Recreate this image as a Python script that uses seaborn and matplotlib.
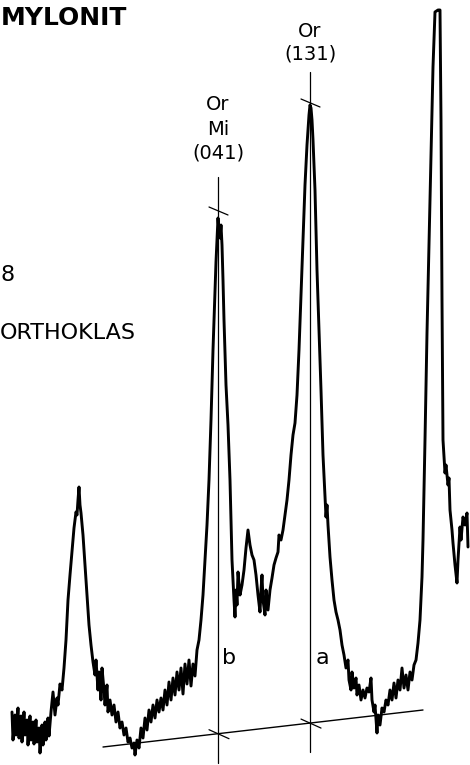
import matplotlib
matplotlib.use("Agg")
import matplotlib.pyplot as plt
import seaborn as sns
import pandas as pd

# Diffractogram trace (x = position, y = depth from top edge)
pos = [12, 13, 15, 16, 18, 19, 21, 22, 24, 25, 27, 28, 30, 31, 33, 34, 36, 37, 39, 40,
       42, 43, 45, 46, 48, 49, 51, 53, 55, 57, 58, 60, 62, 64, 66, 68, 70, 72, 74, 76,
       77, 78, 79, 80, 81, 83, 85, 87, 89, 91, 93, 95, 96, 98, 99, 101, 102, 104, 105, 107,
       108, 110, 112, 114, 116, 118, 120, 122, 124, 126, 128, 130, 132, 134, 135, 137, 139, 141, 143, 145,
       147, 149, 151, 153, 155, 157, 159, 161, 163, 165, 167, 169, 171, 173, 175, 177, 179, 181, 183, 185,
       187, 189, 191, 193, 195, 197, 199, 201, 203, 205, 207, 209, 211, 213, 215, 216, 217, 218, 219, 220,
       221, 222, 223, 224, 226, 227, 228, 230, 232, 234, 235, 236, 237, 238, 240, 242, 244, 246, 248, 250,
       252, 254, 256, 258, 260, 261, 262, 263, 265, 266, 268, 270, 272, 274, 276, 278, 279, 281, 283, 285,
       287, 289, 291, 293, 295, 297, 299, 301, 303, 305, 307, 309, 310, 311, 312, 313, 315, 317, 319, 321,
       323, 325, 326, 327, 328, 330, 332, 334, 336, 338, 340, 342, 344, 346, 348, 349, 351, 352, 354, 356,
       357, 359, 361, 363, 365, 367, 369, 371, 372, 374, 375, 377, 378, 380, 382, 384, 386, 388, 390, 392,
       394, 396, 398, 400, 402, 404, 406, 408, 410, 412, 414, 416, 418, 420, 422, 423, 425, 427, 430, 433,
       435, 438, 440, 441, 442, 443, 445, 446, 448, 449, 450, 452, 453, 455, 457, 458, 460, 461, 463, 465,
       467, 468]
depth = [712, 740, 715, 735, 708, 738, 716, 742, 712, 735, 720, 745, 716, 740, 722, 744, 720, 742, 728, 753,
         725, 745, 722, 740, 718, 736, 712, 692, 715, 698, 705, 684, 690, 668, 640, 600, 575, 552, 528, 512,
         515, 500, 487, 505, 513, 535, 565, 595, 625, 645, 662, 675, 660, 690, 672, 700, 668, 690, 705, 685,
         712, 700, 715, 705, 722, 712, 728, 722, 735, 728, 742, 738, 748, 743, 755, 740, 748, 728, 738, 718,
         730, 710, 722, 705, 718, 700, 712, 698, 710, 690, 705, 682, 700, 678, 695, 672, 690, 668, 694, 664,
         684, 660, 686, 664, 676, 650, 640, 620, 595, 560, 525, 480, 420, 350, 290, 262, 240, 218, 232, 238,
         225, 245, 280, 320, 385, 405, 425, 480, 560, 600, 617, 590, 605, 572, 595, 585, 570, 548, 530, 545,
         555, 560, 575, 595, 612, 590, 575, 600, 615, 590, 610, 590, 578, 565, 558, 552, 535, 540, 530, 515,
         500, 480, 455, 435, 423, 395, 350, 295, 240, 185, 145, 115, 105, 108, 120, 140, 190, 270, 330, 390,
         455, 495, 517, 505, 525, 557, 580, 600, 612, 620, 630, 645, 655, 668, 660, 680, 690, 672, 688, 678,
         695, 685, 700, 690, 698, 688, 692, 678, 700, 712, 705, 733, 715, 725, 708, 712, 700, 705, 690, 700,
         683, 698, 680, 690, 668, 688, 675, 690, 672, 680, 665, 660, 643, 620, 577, 540, 440, 333, 200, 67,
         12, 10, 10, 120, 300, 440, 473, 465, 485, 478, 510, 530, 543, 565, 583, 560, 527, 540, 517, 525,
         513, 547]

# reflection markers (vertical lines) and their labels
peak_x = [218, 310]
peak_top = [177, 72]
peak_bottom = [763, 752]
peak_mark_y = [211, 103]
peak_labels = [["Or", "Mi", "(041)"], ["Or", "(131)"]]
label_y = [[104, 129, 153], [31, 54]]

# background line under the two peaks
base_x = [103, 423]
base_y = [747, 710]
area_x = [229, 322]
area_labels = ["b", "a"]

df = pd.DataFrame({"pos": pos, "depth": depth})

sns.set_style("white")
plt.rcParams["font.family"] = ["DejaVu Sans"]
plt.rcParams["text.color"] = "black"

fig = plt.figure(figsize=(4.7, 7.65), dpi=100)
ax = fig.add_axes([0, 0, 1, 1])

sns.lineplot(data=df, x="pos", y="depth", sort=False, estimator=None,
             color="black", linewidth=2.1, ax=ax)

# baseline and cross ticks
ax.plot(base_x, base_y, color="black", linewidth=1.0)
slope = (base_y[1] - base_y[0]) / (base_x[1] - base_x[0])
for px, top, bot, my in zip(peak_x, peak_top, peak_bottom, peak_mark_y):
    ax.plot([px, px], [top, bot], color="black", linewidth=0.9)
    ax.plot([px - 9, px + 10], [my - 4, my + 4], color="black", linewidth=0.9)
    by = base_y[0] + slope * (px - base_x[0])
    ax.plot([px - 9, px + 11], [by - 4, by + 5], color="black", linewidth=0.9)

for px, labs, ys in zip(peak_x, peak_labels, label_y):
    for lab, yy in zip(labs, ys):
        ax.text(px, yy, lab, ha="center", va="center", fontsize=14)

for ax_, lab in zip(area_x, area_labels):
    ax.text(ax_, 658, lab, ha="center", va="center", fontsize=16)

ax.text(1, 18, "MYLONIT", ha="left", va="center", fontsize=18, fontweight="bold")
ax.text(0, 275, "8", ha="left", va="center", fontsize=16)
ax.text(0, 333, "ORTHOKLAS", ha="left", va="center", fontsize=16)

ax.set_xlim(0, 470)
ax.set_ylim(765, 0)
ax.axis("off")

fig.savefig("out.png", dpi=100, facecolor="white")
